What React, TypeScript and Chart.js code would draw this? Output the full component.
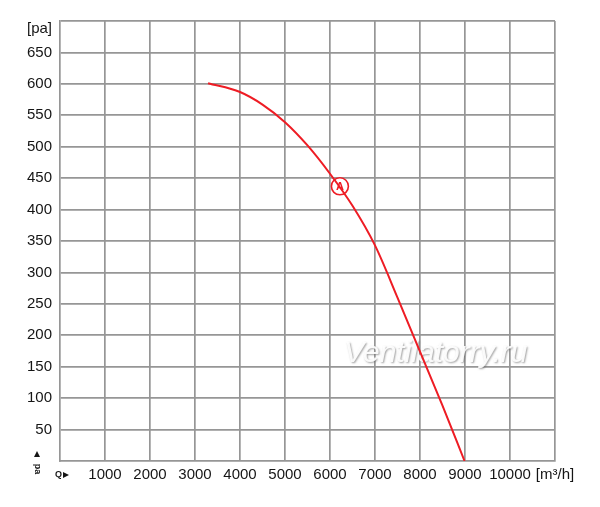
import React, { useEffect, useRef } from "react";
import { Chart, registerables } from "chart.js";

Chart.register(...registerables);

// ---- data ----
const flowQ = [3290, 4000, 4500, 5000, 5500, 6000, 6500, 7000, 7500, 8000, 8500, 8990];
const pressureP = [601, 587, 567, 539, 502, 457, 406, 343, 260, 174, 88, 0];
const markerQ = [6220];
const markerP = [437];
const markerLabel = "A";
const xTickValues = [1000, 2000, 3000, 4000, 5000, 6000, 7000, 8000, 9000, 10000, 11000];
const xUnitLabel = "[m³/h]";
const yTickValues = [50, 100, 150, 200, 250, 300, 350, 400, 450, 500, 550, 600, 650, 700];
const yUnitLabel = "[pa]";
const watermark = "Ventilatorry.ru";

const FONT = "'Liberation Sans', Arial, Helvetica, sans-serif";
const RED = "#ee1c24";
const GRID = "#969696";
const TEXT = "#151515";

export default function App() {
  const ref = useRef<HTMLCanvasElement | null>(null);

  useEffect(() => {
    document.body.style.margin = "0";
    const canvas = ref.current;
    if (!canvas) return;

    const extras = {
      id: "extras",
      beforeDatasetsDraw(chart: any) {
        const { ctx } = chart;
        const xs = chart.scales.x;
        const ys = chart.scales.y;
        ctx.save();
        // watermark
        ctx.font = `italic 30px ${FONT}`;
        ctx.textAlign = "center";
        ctx.textBaseline = "alphabetic";
        ctx.shadowColor = "rgba(100,100,100,0.65)";
        ctx.shadowBlur = 2;
        ctx.shadowOffsetX = 1;
        ctx.shadowOffsetY = 1;
        ctx.fillStyle = "rgba(255,255,255,0.92)";
        ctx.fillText(watermark, xs.getPixelForValue(8350), ys.getPixelForValue(157));
        ctx.restore();
      },
      afterDraw(chart: any) {
        const { ctx } = chart;
        const xs = chart.scales.x;
        const ys = chart.scales.y;
        ctx.save();
        // marker label
        for (let i = 0; i < markerQ.length; i++) {
          const px = xs.getPixelForValue(markerQ[i]);
          const py = ys.getPixelForValue(markerP[i]);
          ctx.fillStyle = RED;
          ctx.font = `bold 11px ${FONT}`;
          ctx.textAlign = "center";
          ctx.textBaseline = "middle";
          ctx.fillText(markerLabel, px, py + 1);
        }
        // y unit label
        ctx.fillStyle = TEXT;
        ctx.font = `15px ${FONT}`;
        ctx.textAlign = "right";
        ctx.textBaseline = "middle";
        ctx.fillText(yUnitLabel, xs.left - 8, ys.getPixelForValue(700) + 8);
        // Q arrow
        ctx.font = `bold 9px ${FONT}`;
        ctx.textAlign = "left";
        ctx.fillText("Q", xs.left - 5, ys.bottom + 14);
        ctx.beginPath();
        ctx.moveTo(xs.left + 3, ys.bottom + 11);
        ctx.lineTo(xs.left + 9, ys.bottom + 14);
        ctx.lineTo(xs.left + 3, ys.bottom + 17);
        ctx.closePath();
        ctx.fill();
        // pa rotated with up arrow
        ctx.beginPath();
        ctx.moveTo(37, ys.bottom - 10);
        ctx.lineTo(40, ys.bottom - 4);
        ctx.lineTo(34, ys.bottom - 4);
        ctx.closePath();
        ctx.fill();
        ctx.translate(37, ys.bottom + 8);
        ctx.rotate(Math.PI / 2);
        ctx.font = `bold 9px ${FONT}`;
        ctx.textAlign = "center";
        ctx.fillText("pa", 0, 0);
        ctx.restore();
      },
    };

    const chart = new Chart(canvas, {
      type: "scatter",
      data: {
        datasets: [
          {
            data: flowQ.map((q, i) => ({ x: q, y: pressureP[i] })),
            showLine: true,
            borderColor: RED,
            borderWidth: 2,
            pointRadius: 0,
            cubicInterpolationMode: "monotone",
            fill: false,
          },
          {
            data: markerQ.map((q, i) => ({ x: q, y: markerP[i] })),
            showLine: false,
            pointRadius: 8.5,
            pointBorderWidth: 1.6,
            pointBorderColor: RED,
            pointBackgroundColor: "#ffffff",
          },
        ],
      },
      options: {
        animation: false,
        responsive: false,
        maintainAspectRatio: false,
        layout: { padding: { left: 0, right: 45, top: 21, bottom: 0 } },
        plugins: { legend: { display: false }, tooltip: { enabled: false } },
        scales: {
          x: {
            type: "linear",
            min: 0,
            max: 11000,
            afterBuildTicks: (axis: any) => {
              axis.ticks = xTickValues.map((v) => ({ value: v }));
            },
            afterFit: (axis: any) => {
              axis.height = 46;
            },
            grid: { color: GRID, lineWidth: 1.7, drawTicks: false },
            border: { display: true, color: GRID, width: 1.7 },
            ticks: {
              padding: 5,
              autoSkip: false,
              maxRotation: 0,
              color: TEXT,
              font: { family: FONT, size: 15 },
              callback: (v: any) => (v === 11000 ? xUnitLabel : String(v)),
            },
          },
          y: {
            type: "linear",
            min: 0,
            max: 700,
            afterBuildTicks: (axis: any) => {
              axis.ticks = yTickValues.map((v) => ({ value: v }));
            },
            afterFit: (axis: any) => {
              axis.width = 60;
            },
            grid: { color: GRID, lineWidth: 1.7, drawTicks: false },
            border: { display: true, color: GRID, width: 1.7 },
            ticks: {
              padding: 8,
              autoSkip: false,
              color: TEXT,
              font: { family: FONT, size: 15 },
              callback: (v: any) => (v === 700 ? "" : String(v)),
            },
          },
        },
      },
      plugins: [extras],
    });

    return () => chart.destroy();
  }, []);

  return (
    <div style={{ width: 600, height: 507, background: "#fff" }}>
      <canvas ref={ref} width={600} height={507} style={{ display: "block" }} />
    </div>
  );
}
